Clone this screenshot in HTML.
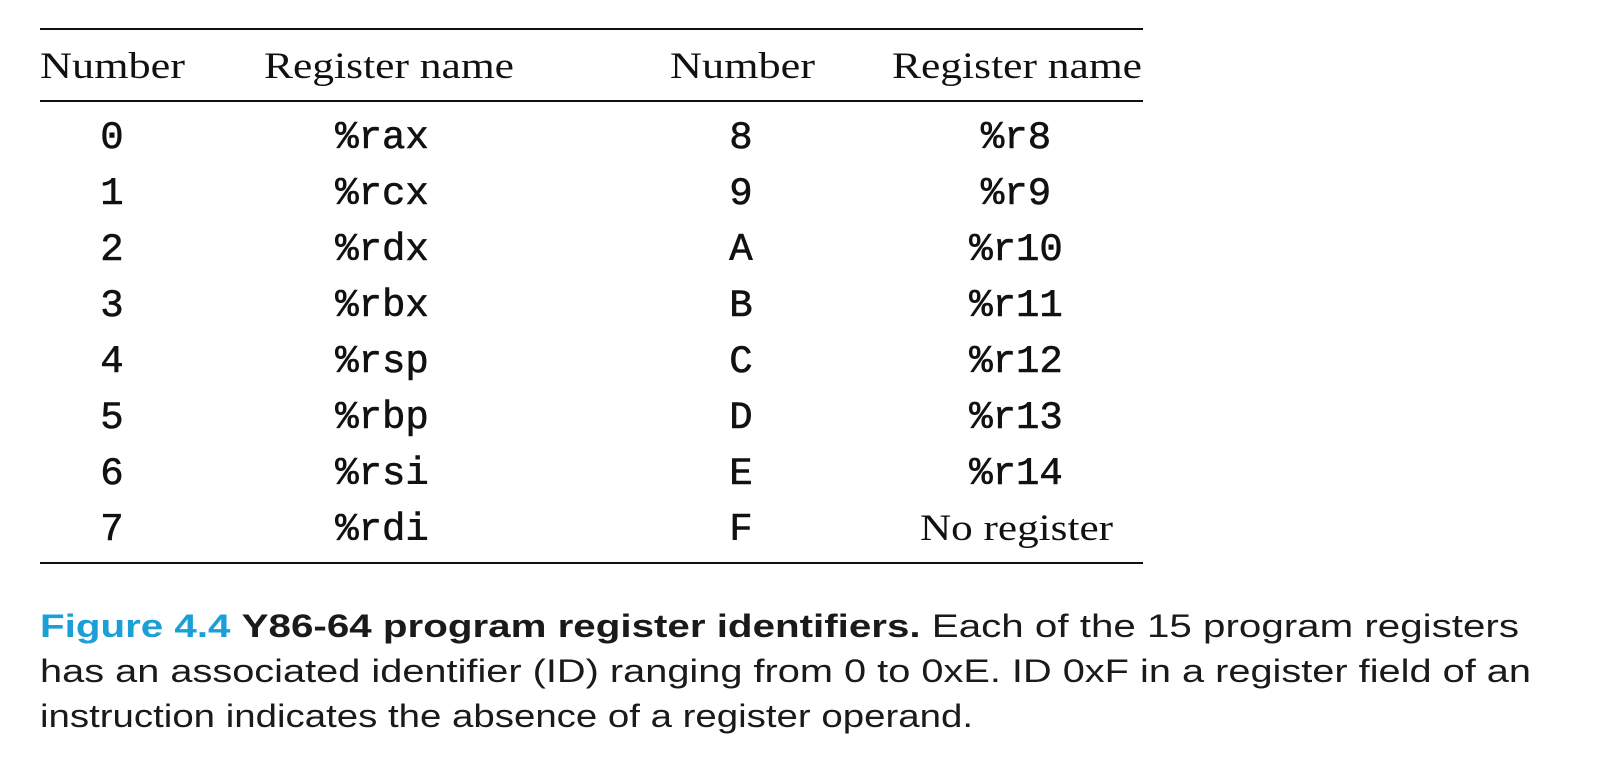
<!DOCTYPE html>
<html><head><meta charset="utf-8"><style>html,body{margin:0;padding:0;background:#fff}svg{display:block}</style></head>
<body>
<svg width="1600" height="780" xmlns="http://www.w3.org/2000/svg">
<g stroke="#111" stroke-width="2">
<line x1="40" y1="29" x2="1143" y2="29"/>
<line x1="40" y1="101" x2="1143" y2="101"/>
<line x1="40" y1="563" x2="1143" y2="563"/>
</g>
<g font-family="Liberation Serif, serif" font-size="37" fill="#111">
<text x="40" y="78" textLength="145" lengthAdjust="spacingAndGlyphs">Number</text>
<text x="264" y="78" textLength="250" lengthAdjust="spacingAndGlyphs">Register name</text>
<text x="670" y="78" textLength="145" lengthAdjust="spacingAndGlyphs">Number</text>
<text x="892" y="78" textLength="250" lengthAdjust="spacingAndGlyphs">Register name</text>
<text x="920" y="540" textLength="193" lengthAdjust="spacingAndGlyphs">No register</text>
</g>
<g font-family="Liberation Mono, monospace" font-size="39" fill="#111" stroke="#111" stroke-width="0.6" text-anchor="middle">
<text x="112" y="148">0</text><text x="382" y="148">%rax</text><text x="741" y="148">8</text><text x="1016" y="148">%r8</text>
<text x="112" y="204">1</text><text x="382" y="204">%rcx</text><text x="741" y="204">9</text><text x="1016" y="204">%r9</text>
<text x="112" y="260">2</text><text x="382" y="260">%rdx</text><text x="741" y="260">A</text><text x="1016" y="260">%r10</text>
<text x="112" y="316">3</text><text x="382" y="316">%rbx</text><text x="741" y="316">B</text><text x="1016" y="316">%r11</text>
<text x="112" y="372">4</text><text x="382" y="372">%rsp</text><text x="741" y="372">C</text><text x="1016" y="372">%r12</text>
<text x="112" y="428">5</text><text x="382" y="428">%rbp</text><text x="741" y="428">D</text><text x="1016" y="428">%r13</text>
<text x="112" y="484">6</text><text x="382" y="484">%rsi</text><text x="741" y="484">E</text><text x="1016" y="484">%r14</text>
<text x="112" y="540">7</text><text x="382" y="540">%rdi</text><text x="741" y="540">F</text>
</g>
<g font-family="Liberation Sans, sans-serif" font-size="32" fill="#1a1a1a">
<text x="40" y="637" textLength="1479" lengthAdjust="spacingAndGlyphs"><tspan fill="#1a9fd6" font-weight="bold">Figure 4.4</tspan>   <tspan font-weight="bold">Y86-64 program register identifiers.</tspan> Each of the 15 program registers</text>
<text x="40" y="682" textLength="1491" lengthAdjust="spacingAndGlyphs">has an associated identifier (ID) ranging from 0 to 0xE. ID 0xF in a register field of an</text>
<text x="40" y="727" textLength="933" lengthAdjust="spacingAndGlyphs">instruction indicates the absence of a register operand.</text>
</g>
</svg>
</body></html>
